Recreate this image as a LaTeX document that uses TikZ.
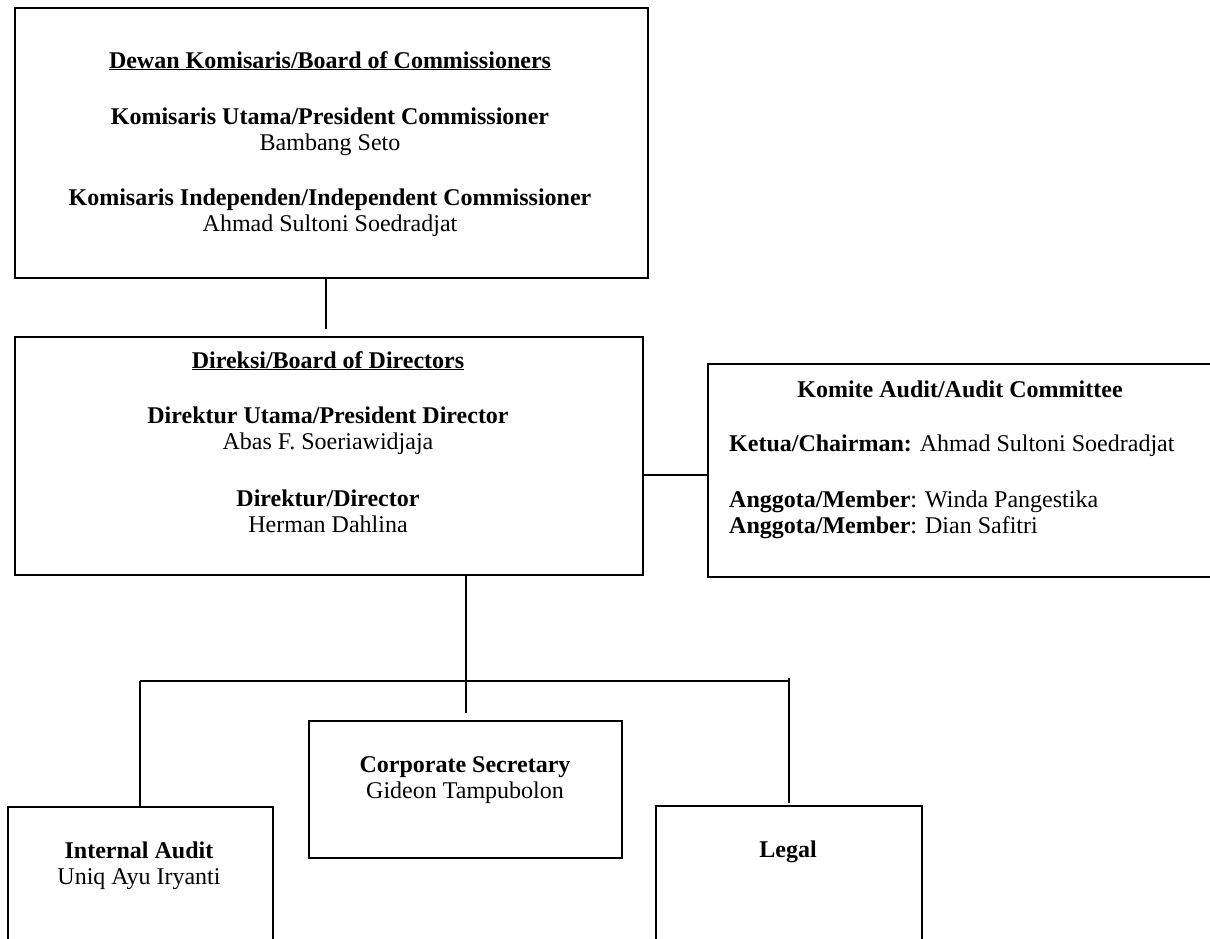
\documentclass[tikz,border=0pt]{standalone}
\usepackage{fontspec}
\setmainfont{Liberation Serif}
\begin{document}
\begin{tikzpicture}[x=1pt,y=-1pt,
  box/.style={draw,line width=1.8pt,rectangle,anchor=north west,inner sep=0pt},
  conn/.style={line width=1.4pt},
  txt/.style={anchor=base,inner sep=0pt,font=\fontsize{24}{28}\selectfont},
  ltxt/.style={anchor=base west,inner sep=0pt,font=\fontsize{24}{28}\selectfont}]
\useasboundingbox (0,0) rectangle (1210,938);
\clip (0,0) rectangle (1210,938);
% boxes
\node[box,minimum width=633pt,minimum height=270pt] (boc) at (14,7) {};
\node[box,minimum width=628pt,minimum height=238pt] (bod) at (14,336) {};
\node[box,minimum width=520pt,minimum height=213pt] (ac) at (707,363) {};
\node[box,minimum width=313pt,minimum height=137pt] (cs) at (308,720) {};
\node[box,minimum width=265pt,minimum height=200pt] (ia) at (7,806) {};
\node[box,minimum width=266pt,minimum height=200pt] (lg) at (655,805) {};
% texts board of commissioners
\node[txt] (t1) at (330,68) {\textbf{\underline{Dewan Komisaris/Board of Commissioners}}};
\node[txt] (t2) at (330,124) {\textbf{Komisaris Utama/President Commissioner}};
\node[txt] (t3) at (330,150) {Bambang Seto};
\node[txt] (t4) at (330,205) {\textbf{Komisaris Independen/Independent Commissioner}};
\node[txt] (t5) at (330,231) {Ahmad Sultoni Soedradjat};
% directors
\node[txt] (d1) at (328,368) {\textbf{\underline{Direksi/Board of Directors}}};
\node[txt] (d2) at (328,423) {\textbf{Direktur Utama/President Director}};
\node[txt] (d3) at (328,449) {Abas F. Soeriawidjaja};
\node[txt] (d4) at (328,506) {\textbf{Direktur/Director}};
\node[txt] (d5) at (328,532) {Herman Dahlina};
% audit committee
\node[txt] (a1) at (960,397) {\textbf{Komite Audit/Audit Committee}};
\node[ltxt] (a2) at (729,451) {\textbf{Ketua/Chairman:} Ahmad Sultoni Soedradjat};
\node[ltxt] (a3) at (729,507) {\textbf{Anggota/Member}: Winda Pangestika};
\node[ltxt] (a4) at (729,533) {\textbf{Anggota/Member}: Dian Safitri};
% corporate secretary
\node[txt] (c1) at (465,772) {\textbf{Corporate Secretary}};
\node[txt] (c2) at (465,798) {Gideon Tampubolon};
% internal audit
\node[txt] (i1) at (139,858) {\textbf{Internal Audit}};
\node[txt] (i2) at (139,884) {Uniq Ayu Iryanti};
% legal
\node[txt] (l1) at (788,857) {\textbf{Legal}};
% connectors
\coordinate (bocdrop) at (326,329);
\draw[conn] (boc.south -| bocdrop) -- (bocdrop);
\draw[conn] (ac.west |- 0,475) -- (bod.east |- 0,475);
\coordinate (busmid) at (466,681);
\coordinate (busl) at (140,681);
\coordinate (busr) at (789,681);
\coordinate (csdrop) at (466,713);
\coordinate (lgdrop) at (789,803);
\draw[conn] (bod.south -| busmid) -- (csdrop);
\draw[line width=1.8pt] (busl) -- (busr);
\draw[conn] (busl) -- (busl |- ia.north);
\draw[conn] (789,678) -- (lgdrop);
\end{tikzpicture}
\end{document}
